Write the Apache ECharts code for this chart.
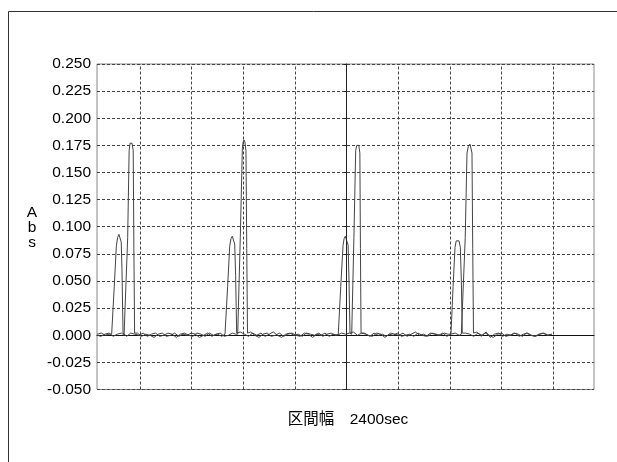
<!DOCTYPE html>
<html><head><meta charset="utf-8">
<script src="https://cdn.jsdelivr.net/npm/echarts@6/dist/echarts.min.js"></script>
<style>html,body{margin:0;padding:0;background:#fff}#c{width:617px;height:462px}</style>
</head><body><div id="c"></div>
<script>
// y axis tick range (Abs)
const yMin = -0.05, yMax = 0.25, yStep = 0.025;
// x axis extent in grid-division units (1 division = 10 units), 0 = centre line
const xMin = -48.34, xMax = 47.88;
const xGridLines = [-40, -30, -20, -10, 10, 20, 30, 40];
const xCenterLine = 0;
const yAxisName = 'A\nb\ns';
const xCaption = '区間幅　2400sec';

// Trace A (smaller peaks)
const xA = [
 -48.3, -47.5, -46.7, -46.0,
 -45.5, -45.0, -44.6, -44.35, -44.1, -43.85, -43.65, -43.5, -43.3,
 -42.6, -41.8, -41.0, -40.2, -39.4, -38.6, -37.8, -37.0, -36.2, -35.4, -34.6, -33.8, -33.0, -32.2, -31.4, -30.6, -29.8, -29.0, -28.2, -27.4, -26.6, -25.8, -25.0, -24.2,
 -23.56, -23.05, -22.65, -22.4, -22.15, -21.9, -21.68, -21.5, -21.3,
 -20.6, -19.8, -19.0, -18.2, -17.4, -16.6, -15.8, -15.0, -14.2, -13.4, -12.6, -11.8, -11.0, -10.2, -9.4, -8.6, -7.8, -7.0, -6.2, -5.4, -4.6, -3.8, -3.0, -2.2,
 -1.63, -1.15, -0.7, -0.5, -0.27, 0.0, 0.28, 0.45, 0.64,
 1.3, 2.1, 2.9, 3.7, 4.5, 5.3, 6.1, 6.9, 7.7, 8.5, 9.3, 10.1, 10.9, 11.7, 12.5, 13.3, 14.1, 14.9, 15.7, 16.5, 17.3, 18.1, 18.9, 19.6,
 20.19, 20.6, 20.97, 21.2, 21.49, 21.75, 22.0, 22.2, 22.38,
 23.0, 23.8, 24.6, 25.4, 26.2, 27.0, 27.8, 28.6, 29.4, 30.2, 31.0, 31.8, 32.6, 33.4, 34.2, 35.0, 35.8, 36.6, 37.4, 38.2, 39.0, 39.7
];
const yA = [
 0.001, 0.002, 0.000, 0.001,
 0.001, 0.045, 0.082, 0.090, 0.093, 0.092, 0.086, 0.060, 0.002,
 -0.001, 0.002, 0.001, 0.000, 0.002, -0.001, 0.001, 0.002, -0.001, 0.000, 0.002, 0.001, -0.002, 0.001, 0.002, 0.000, -0.001, 0.002, 0.001, -0.001, 0.002, 0.000, 0.001, -0.001,
 0.001, 0.045, 0.082, 0.089, 0.0913, 0.090, 0.084, 0.055, 0.002,
 0.003, 0.001, -0.001, 0.002, 0.000, 0.002, -0.001, 0.001, 0.003, 0.000, -0.002, 0.001, 0.002, 0.000, 0.001, -0.001, 0.002, 0.001, 0.000, 0.002, -0.001, 0.001, 0.002, 0.000,
 0.001, 0.045, 0.083, 0.089, 0.0913, 0.090, 0.083, 0.050, 0.002,
 0.003, 0.000, 0.002, 0.001, -0.001, 0.002, 0.000, 0.001, -0.001, 0.002, 0.001, 0.000, 0.002, -0.001, 0.001, 0.003, 0.000, 0.001, -0.001, 0.002, 0.001, 0.000, 0.002, 0.001,
 0.001, 0.045, 0.081, 0.087, 0.0886, 0.087, 0.081, 0.050, 0.002,
 0.002, 0.001, -0.001, 0.002, 0.000, 0.003, -0.002, 0.001, 0.002, -0.001, 0.001, 0.000, 0.002, -0.001, 0.001, 0.002, 0.000, -0.001, 0.001, 0.002, 0.000, 0.001
];

// Trace B (larger peaks)
const xB = [
 -48.3, -47.6, -46.8, -46.0, -45.2, -44.4, -43.6, -43.1,
 -42.73, -42.4, -42.12, -41.95, -41.76, -41.55, -41.33, -41.2, -41.06,
 -40.5, -39.7, -38.9, -38.1, -37.3, -36.5, -35.7, -34.9, -34.1, -33.3, -32.5, -31.7, -30.9, -30.1, -29.3, -28.5, -27.7, -26.9, -26.1, -25.3, -24.5, -23.7, -22.9, -22.1, -21.5,
 -21.10, -20.6, -20.2, -20.05, -19.88, -19.7, -19.5, -19.35, -19.2,
 -18.6, -17.8, -17.0, -16.2, -15.4, -14.6, -13.8, -13.0, -12.2, -11.4, -10.6, -9.8, -9.0, -8.2, -7.4, -6.6, -5.8, -5.0, -4.2, -3.4, -2.6, -1.8, -1.0, -0.2, 0.5,
 0.97, 1.4, 1.74, 1.93, 2.13, 2.35, 2.55, 2.66, 2.78,
 3.4, 4.2, 5.0, 5.8, 6.6, 7.4, 8.2, 9.0, 9.8, 10.6, 11.4, 12.2, 13.0, 13.8, 14.6, 15.4, 16.2, 17.0, 17.8, 18.6, 19.4, 20.2, 21.0, 21.8, 22.2,
 22.57, 22.95, 23.29, 23.55, 23.87, 24.08, 24.26, 24.4, 24.55,
 25.2, 26.0, 26.8, 27.6, 28.4, 29.2, 30.0, 30.8, 31.6, 32.4, 33.2, 34.0, 34.8, 35.6, 36.4, 37.2, 38.0, 38.8, 39.7
];
const yB = [
 0.000, -0.001, 0.001, 0.002, -0.001, 0.001, 0.002, 0.000,
 0.001, 0.090, 0.170, 0.177, 0.1783, 0.177, 0.170, 0.080, 0.002,
 0.002, -0.001, 0.001, 0.000, -0.002, 0.001, 0.002, -0.001, 0.000, 0.002, -0.001, 0.001, 0.000, 0.002, 0.001, -0.002, 0.000, 0.002, -0.001, 0.001, 0.002, -0.001, 0.000, 0.002, 0.001,
 0.001, 0.090, 0.172, 0.178, 0.180, 0.178, 0.170, 0.080, 0.002,
 0.003, 0.000, -0.002, 0.001, 0.002, -0.001, 0.000, 0.002, -0.001, 0.001, 0.002, 0.000, -0.001, 0.002, 0.001, -0.002, 0.001, 0.000, 0.002, -0.001, 0.001, 0.000, 0.002, 0.001, 0.002,
 0.001, 0.090, 0.170, 0.175, 0.1762, 0.175, 0.168, 0.080, 0.002,
 0.002, 0.000, -0.001, 0.002, 0.001, -0.002, 0.001, 0.000, 0.002, -0.001, 0.000, 0.001, -0.001, 0.002, 0.000, -0.001, 0.002, 0.001, 0.000, 0.002, -0.001, 0.001, 0.002, 0.000, 0.001,
 0.001, 0.090, 0.168, 0.174, 0.1762, 0.175, 0.168, 0.080, 0.002,
 0.003, -0.001, 0.002, 0.000, -0.002, 0.001, 0.002, -0.001, 0.000, 0.002, 0.001, -0.001, 0.002, 0.000, -0.001, 0.001, 0.002, 0.000, 0.001
];

if (xA.length !== yA.length) throw new Error('A mismatch ' + xA.length + ' ' + yA.length);
if (xB.length !== yB.length) throw new Error('B mismatch ' + xB.length + ' ' + yB.length);

const FONT = '"Liberation Sans", Arial, sans-serif';
const chart = echarts.init(document.getElementById('c'), null, {renderer: 'canvas'});
const gridDash = {color: '#444', width: 1, type: [3, 2]};

chart.setOption({
  animation: false,
  backgroundColor: '#fff',
  grid: {left: 97, top: 64, right: 23, bottom: 72.5, show: true, borderColor: '#888', borderWidth: 1, backgroundColor: 'transparent'},
  xAxis: {
    type: 'value', min: xMin, max: xMax,
    axisLine: {show: true, onZero: true, lineStyle: {color: '#111', width: 1}},
    axisTick: {show: false}, axisLabel: {show: false}, splitLine: {show: false}
  },
  yAxis: {
    type: 'value', min: yMin, max: yMax, interval: yStep,
    axisLine: {show: true, lineStyle: {color: '#222', width: 1}},
    axisTick: {show: true, inside: false, length: 3, lineStyle: {color: '#222'}},
    axisLabel: {color: '#000', fontSize: 15.5, fontFamily: FONT, margin: 6,
      formatter: v => v.toFixed(3)},
    splitLine: {show: true, lineStyle: gridDash}
  },
  graphic: [
    {type: 'rect', shape: {x: 8.5, y: 11.5, width: 640, height: 480}, style: {fill: 'none', stroke: '#333', lineWidth: 1}, silent: true, z: -1},
    {type: 'text', x: 32, y: 205, style: {text: yAxisName, fill: '#000', font: '15.5px ' + FONT, textAlign: 'center', lineHeight: 15}},
    {type: 'text', x: 348, y: 420, style: {text: xCaption, fill: '#000', font: '15.5px "Liberation Sans", "Noto Sans CJK JP", sans-serif', textAlign: 'center', textVerticalAlign: 'middle'}}
  ],
  series: [
    {
      type: 'line', data: xA.map((x, i) => [x, yA[i]]), showSymbol: false, symbol: 'none',
      lineStyle: {color: '#444', width: 1}, z: 3,
      markLine: {
        silent: true, symbol: 'none', label: {show: false}, animation: false,
        data: xGridLines.map(v => ({xAxis: v, lineStyle: gridDash}))
          .concat([{xAxis: xCenterLine, lineStyle: {color: '#222', width: 1, type: 'solid'}}])
      }
    },
    {
      type: 'line', data: xB.map((x, i) => [x, yB[i]]), showSymbol: false, symbol: 'none',
      lineStyle: {color: '#444', width: 1}, z: 3
    }
  ]
});
</script></body></html>
